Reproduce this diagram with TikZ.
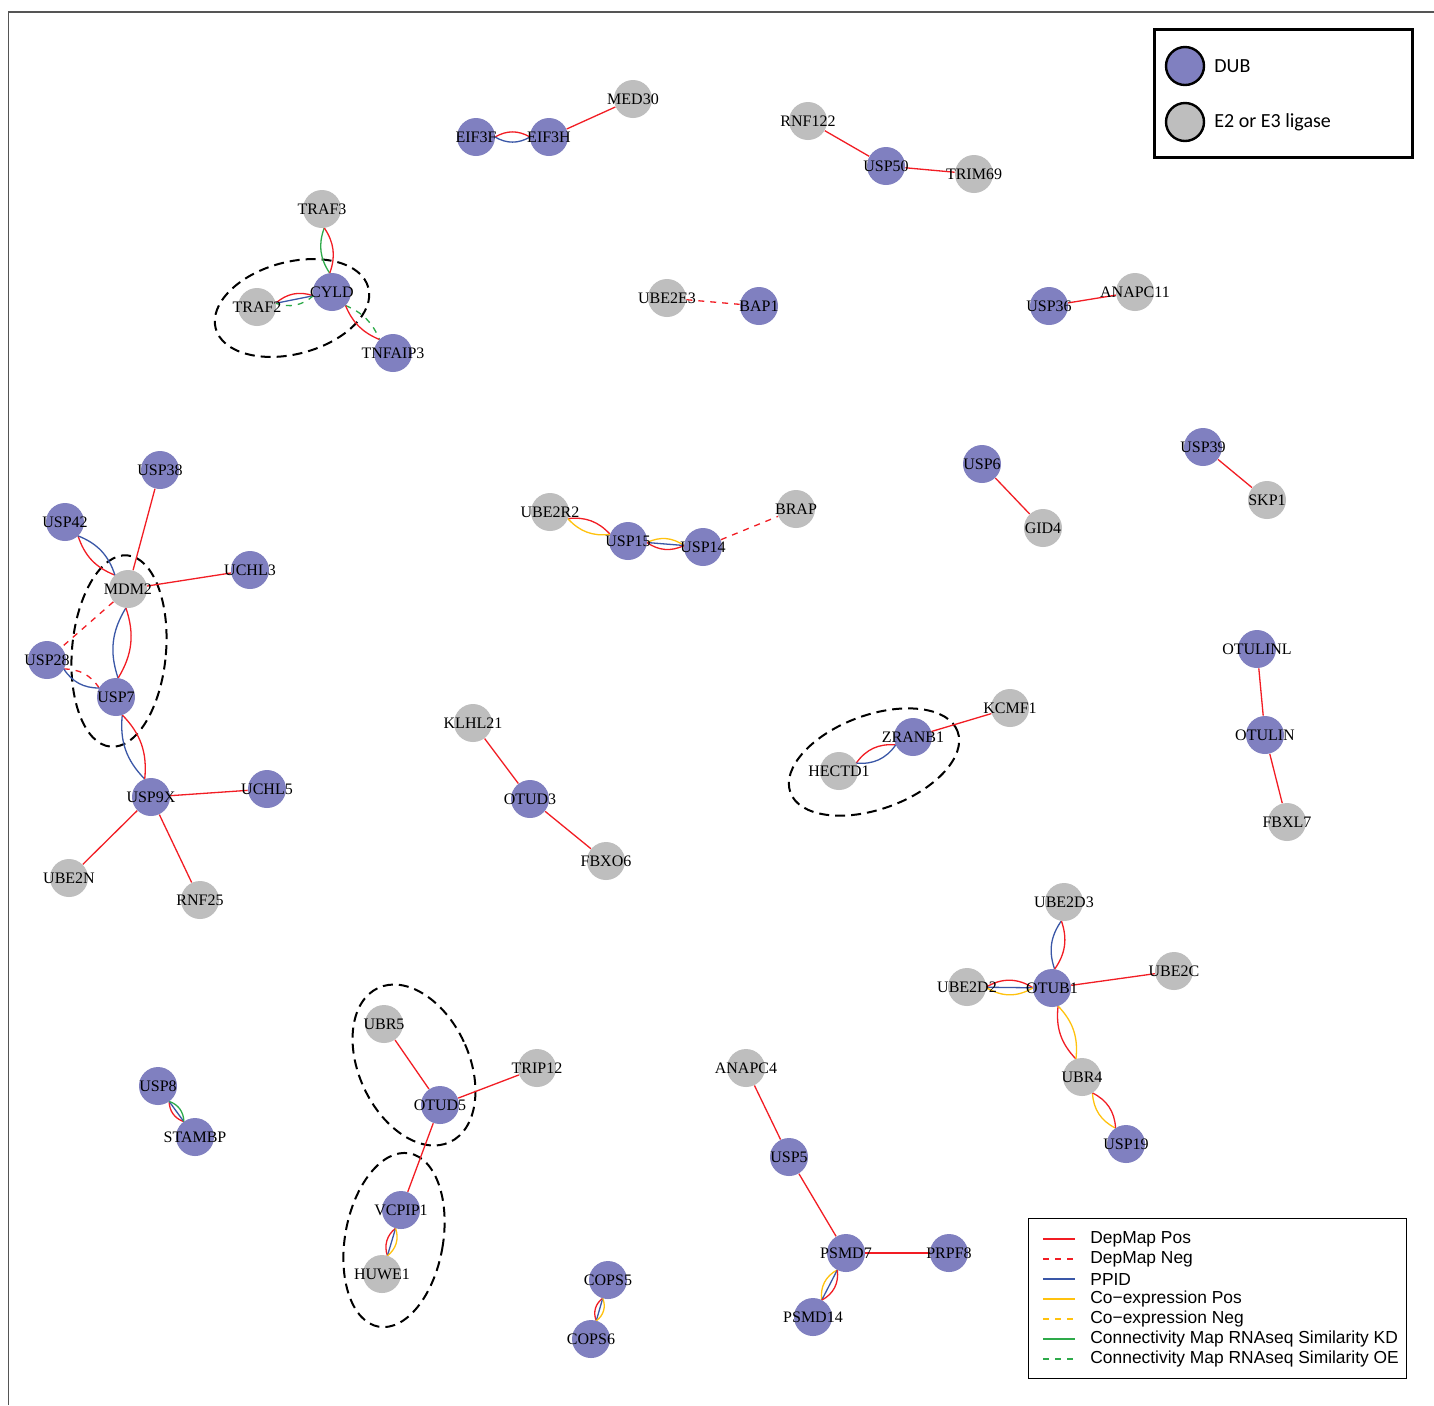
\documentclass[tikz,border=0pt]{standalone}
\usepackage{fontspec}
\setmainfont{Liberation Serif}
\newfontfamily\legA{Carlito}
\newfontfamily\legB{Liberation Sans}
\usetikzlibrary{calc}
\pgfdeclarelayer{bglayer}
\pgfdeclarelayer{edgelayer}
\pgfsetlayers{bglayer,edgelayer,main}
\definecolor{dubc}{HTML}{8080C0}
\definecolor{ligc}{HTML}{BEBEBE}
\definecolor{epos}{HTML}{F21D24}
\definecolor{ppid}{HTML}{3A57A7}
\definecolor{coex}{HTML}{FFC20E}
\definecolor{cmap}{HTML}{2EAA4A}
\definecolor{framec}{HTML}{555555}
\tikzset{
  dub/.style={circle, fill=dubc, minimum size=19pt, inner sep=0pt},
  lig/.style={circle, fill=ligc, minimum size=19pt, inner sep=0pt},
  lbl/.style={font=\fontsize{8}{9}\selectfont, inner sep=0pt},
  edg/.style={line width=0.65pt},
  dep/.style={edg, draw=epos},
  depneg/.style={dep, dash pattern=on 3pt off 3pt},
  ppi/.style={edg, draw=ppid},
  cxp/.style={edg, draw=coex},
  cxn/.style={cxp, dash pattern=on 3pt off 3pt},
  cmk/.style={edg, draw=cmap},
  cmo/.style={cmk, dash pattern=on 3pt off 3pt},
  grp/.style={draw=black, line width=1pt, dash pattern=on 5pt off 3pt},
  legc/.style={circle, draw=black, line width=1.2pt, minimum size=19pt, inner sep=0pt},
  legtxt/.style={anchor=west, inner sep=0pt, font=\legA\fontsize{10}{12}\selectfont},
  legtxtb/.style={anchor=west, inner sep=0pt, font=\legB\fontsize{8.7}{10}\selectfont},
}
\newcommand\Dn[3]{\node[dub] (#1) at (#2) {}; \node[lbl] at (#2) {#3};}
\newcommand\Ln[3]{\node[lig] (#1) at (#2) {}; \node[lbl] at (#2) {#3};}
% lens-shaped edge between the border points on the straight line
\newcommand\Be[4]{\draw[#1] ($(#2.center)!9.5pt!(#3.center)$) to[#4] ($(#3.center)!9.5pt!(#2.center)$);}
\begin{document}
\begin{tikzpicture}[x=0.5pt,y=-0.5pt]
\useasboundingbox (0,0) rectangle (1434,1405);
\begin{pgfonlayer}{bglayer}
\fill[white] (0,0) rectangle (1434,1405);
\end{pgfonlayer}
% frame
\draw[framec, line width=0.6pt] (8.5,1405) -- (8.5,12) -- (1434,12);

% nodes
\Dn{EIF3F}{476,137}{EIF3F}
\Dn{EIF3H}{549,137}{EIF3H}
\Ln{MED30}{633,99}{MED30}
\Ln{RNF122}{808,121}{RNF122}
\Dn{USP50}{886,166}{USP50}
\Ln{TRIM69}{974,174}{TRIM69}
\Ln{TRAF3}{322,209}{TRAF3}
\Dn{CYLD}{332,292}{CYLD}
\Ln{TRAF2}{257,307}{TRAF2}
\Dn{TNFAIP3}{393,353}{TNFAIP3}
\Ln{UBE2E3}{667,298}{UBE2E3}
\Dn{BAP1}{759,306}{BAP1}
\Dn{USP36}{1049,306}{USP36}
\Ln{ANAPC11}{1135,292}{ANAPC11}
\Dn{USP38}{160,470}{USP38}
\Dn{USP42}{65,522}{USP42}
\Ln{MDM2}{128,589}{MDM2}
\Dn{UCHL3}{250,570}{UCHL3}
\Dn{USP28}{47,660}{USP28}
\Dn{USP7}{116,697}{USP7}
\Dn{USP9X}{151,797}{USP9X}
\Dn{UCHL5}{267,789}{UCHL5}
\Ln{UBE2N}{69,878}{UBE2N}
\Ln{RNF25}{200,900}{RNF25}
\Dn{USP6}{982,464}{USP6}
\Ln{GID4}{1043,528}{GID4}
\Dn{USP39}{1203,447}{USP39}
\Ln{SKP1}{1267,500}{SKP1}
\Ln{UBE2R2}{550,512}{UBE2R2}
\Dn{USP15}{628,541}{USP15}
\Dn{USP14}{703,547}{USP14}
\Ln{BRAP}{796,509}{BRAP}
\Ln{KLHL21}{473,723}{KLHL21}
\Dn{OTUD3}{530,799}{OTUD3}
\Ln{FBXO6}{606,861}{FBXO6}
\Ln{KCMF1}{1010,708}{KCMF1}
\Dn{ZRANB1}{913,737}{ZRANB1}
\Ln{HECTD1}{839,771}{HECTD1}
\Dn{OTULINL}{1257,649}{OTULINL}
\Dn{OTULIN}{1265,735}{OTULIN}
\Ln{FBXL7}{1287,822}{FBXL7}
\Ln{UBE2D3}{1064,902}{UBE2D3}
\Ln{UBE2D2}{967,987}{UBE2D2}
\Dn{OTUB1}{1052,988}{OTUB1}
\Ln{UBE2C}{1174,971}{UBE2C}
\Ln{UBR4}{1082,1077}{UBR4}
\Dn{USP19}{1126,1144}{USP19}
\Ln{UBR5}{384,1024}{UBR5}
\Ln{TRIP12}{537,1068}{TRIP12}
\Dn{OTUD5}{440,1105}{OTUD5}
\Dn{VCPIP1}{401,1210}{VCPIP1}
\Ln{HUWE1}{382,1274}{HUWE1}
\Dn{USP8}{158,1086}{USP8}
\Dn{STAMBP}{195,1137}{STAMBP}
\Ln{ANAPC4}{746,1068}{ANAPC4}
\Dn{USP5}{789,1157}{USP5}
\Dn{PSMD7}{846,1253}{PSMD7}
\Dn{PRPF8}{949,1253}{PRPF8}
\Dn{PSMD14}{813,1317}{PSMD14}
\Dn{COPS5}{608,1280}{COPS5}
\Dn{COPS6}{591,1339}{COPS6}

\begin{pgfonlayer}{edgelayer}
% group ellipses
\draw[grp, rotate around={15:(292,308)}] (292,308) ellipse [x radius=39.5pt, y radius=23pt];
\draw[grp, rotate around={-5:(119,651)}] (119,651) ellipse [x radius=23.5pt, y radius=48pt];
\draw[grp, rotate around={20:(874,762)}] (874,762) ellipse [x radius=44.5pt, y radius=23.5pt];
\draw[grp, rotate around={25:(414,1065)}] (414,1065) ellipse [x radius=27.5pt, y radius=42.5pt];
\draw[grp, rotate around={-10:(394,1240)}] (394,1240) ellipse [x radius=24.5pt, y radius=44pt];

% edges
\Be{dep}{EIF3F}{EIF3H}{bend left=30}
\Be{ppi}{EIF3F}{EIF3H}{bend right=30}
\draw[dep] (EIF3H) -- (MED30);
\draw[dep] (RNF122) -- (USP50);
\draw[dep] (USP50) -- (TRIM69);
\Be{cmk}{TRAF3}{CYLD}{bend right=27}
\Be{dep}{TRAF3}{CYLD}{bend left=27}
\Be{dep}{CYLD}{TRAF2}{bend right=30}
\draw[ppi] (CYLD) -- (TRAF2);
\Be{cmo}{CYLD}{TRAF2}{bend left=30}
\Be{cmo}{CYLD}{TNFAIP3}{bend left=22}
\Be{dep}{CYLD}{TNFAIP3}{bend right=22}
\draw[depneg] (UBE2E3) -- (BAP1);
\draw[dep] (USP36) -- (ANAPC11);
\draw[dep] (USP38) -- (MDM2);
\Be{dep}{USP42}{MDM2}{bend right=25}
\Be{ppi}{USP42}{MDM2}{bend left=25}
\draw[dep] (MDM2) -- (UCHL3);
\draw[depneg] (MDM2) -- (USP28);
\Be{ppi}{MDM2}{USP7}{bend right=25}
\Be{dep}{MDM2}{USP7}{bend left=25}
\Be{depneg}{USP28}{USP7}{bend left=28}
\Be{ppi}{USP28}{USP7}{bend right=28}
\Be{ppi}{USP7}{USP9X}{bend right=25}
\Be{dep}{USP7}{USP9X}{bend left=25}
\draw[dep] (USP9X) -- (UCHL5);
\draw[dep] (USP9X) -- (UBE2N);
\draw[dep] (USP9X) -- (RNF25);
\draw[dep] (USP6) -- (GID4);
\draw[dep] (USP39) -- (SKP1);
\Be{dep}{UBE2R2}{USP15}{bend left=27}
\Be{cxp}{UBE2R2}{USP15}{bend right=27}
\Be{cxp}{USP15}{USP14}{bend left=30}
\draw[ppi] (USP15) -- (USP14);
\Be{dep}{USP15}{USP14}{bend right=30}
\draw[depneg] (USP14) -- (BRAP);
\draw[dep] (KLHL21) -- (OTUD3);
\draw[dep] (OTUD3) -- (FBXO6);
\draw[dep] (KCMF1) -- (ZRANB1);
\Be{dep}{ZRANB1}{HECTD1}{bend right=30}
\Be{ppi}{ZRANB1}{HECTD1}{bend left=30}
\draw[dep] (OTULINL) -- (OTULIN);
\draw[dep] (OTULIN) -- (FBXL7);
\Be{ppi}{UBE2D3}{OTUB1}{bend right=27}
\Be{dep}{UBE2D3}{OTUB1}{bend left=27}
\Be{dep}{UBE2D2}{OTUB1}{bend left=32}
\draw[ppi] (UBE2D2) -- (OTUB1);
\Be{cxp}{UBE2D2}{OTUB1}{bend right=32}
\draw[dep] (OTUB1) -- (UBE2C);
\Be{dep}{OTUB1}{UBR4}{bend right=25}
\Be{cxp}{OTUB1}{UBR4}{bend left=25}
\Be{cxp}{UBR4}{USP19}{bend right=30}
\Be{dep}{UBR4}{USP19}{bend left=30}
\draw[dep] (UBR5) -- (OTUD5);
\draw[dep] (OTUD5) -- (TRIP12);
\draw[dep] (OTUD5) -- (VCPIP1);
\Be{dep}{VCPIP1}{HUWE1}{bend right=35}
\draw[ppi] (VCPIP1) -- (HUWE1);
\Be{cxp}{VCPIP1}{HUWE1}{bend left=35}
\Be{dep}{USP8}{STAMBP}{bend right=35}
\draw[ppi] (USP8) -- (STAMBP);
\Be{cmk}{USP8}{STAMBP}{bend left=35}
\draw[dep] (ANAPC4) -- (USP5);
\draw[dep] (USP5) -- (PSMD7);
\draw[dep] (PSMD7) -- (PRPF8);
\Be{cxp}{PSMD7}{PSMD14}{bend right=35}
\draw[ppi] (PSMD7) -- (PSMD14);
\Be{dep}{PSMD7}{PSMD14}{bend left=35}
\Be{dep}{COPS5}{COPS6}{bend right=38}
\draw[ppi] (COPS5) -- (COPS6);
\Be{cxp}{COPS5}{COPS6}{bend left=38}
\end{pgfonlayer}

% legend 1
\node[draw=black, line width=1.5pt, minimum width=129pt, minimum height=64pt, inner sep=0pt] (leg1) at (1283.5,93) {};
\node[legc, fill=dubc] (legdub) at (1185,66) {};
\node[legc, fill=ligc] (leglig) at (1185,122) {};
\node[legtxt] at (1214,66) {DUB};
\node[legtxt] at (1214,122) {E2 or E3 ligase};

% legend 2
\node[draw=black, line width=0.5pt, minimum width=189pt, minimum height=80pt, inner sep=0pt] (leg2) at (1217.5,1298.5) {};
\coordinate (l1a) at (1043,1239); \coordinate (l1b) at (1075,1239);
\coordinate (l2a) at (1043,1259); \coordinate (l2b) at (1075,1259);
\coordinate (l3a) at (1043,1279); \coordinate (l3b) at (1075,1279);
\coordinate (l4a) at (1043,1299); \coordinate (l4b) at (1075,1299);
\coordinate (l5a) at (1043,1319); \coordinate (l5b) at (1075,1319);
\coordinate (l6a) at (1043,1339); \coordinate (l6b) at (1075,1339);
\coordinate (l7a) at (1043,1359); \coordinate (l7b) at (1075,1359);
\draw[dep] (l1a) -- (l1b);
\draw[depneg] (l2a) -- (l2b);
\draw[ppi] (l3a) -- (l3b);
\draw[cxp] (l4a) -- (l4b);
\draw[cxn] (l5a) -- (l5b);
\draw[cmk] (l6a) -- (l6b);
\draw[cmo] (l7a) -- (l7b);
\node[legtxtb] at (1090,1239) {DepMap Pos};
\node[legtxtb] at (1090,1259) {DepMap Neg};
\node[legtxtb] at (1090,1279) {PPID};
\node[legtxtb] at (1090,1299) {Co\char"2212 expression Pos};
\node[legtxtb] at (1090,1319) {Co\char"2212 expression Neg};
\node[legtxtb] at (1090,1339) {Connectivity Map RNAseq Similarity KD};
\node[legtxtb] at (1090,1359) {Connectivity Map RNAseq Similarity OE};
\end{tikzpicture}
\end{document}
